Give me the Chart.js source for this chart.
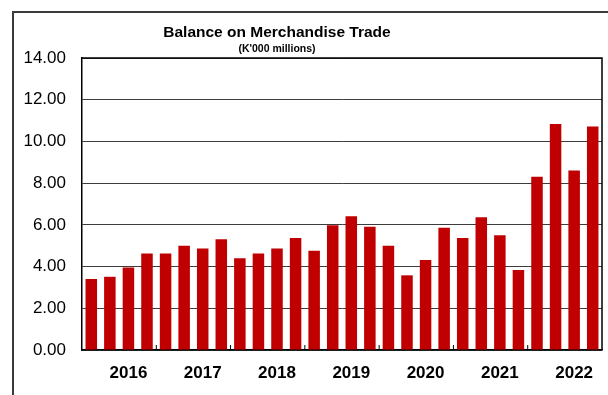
<!DOCTYPE html>
<html>
<head>
<meta charset="utf-8">
<script src="https://cdn.jsdelivr.net/npm/chart.js@4"></script>
<style>
  html, body { margin: 0; padding: 0; background: #fff; }
  #wrap { position: relative; width: 608px; height: 395px; }
</style>
</head>
<body>
<div id="wrap"><canvas id="trade" width="608" height="395"></canvas></div>
<script>
// Quarterly balance on merchandise trade, K'000 millions
const years = ["2016", "2017", "2018", "2019", "2020", "2021", "2022"];
const quarters = ["Q1", "Q2", "Q3", "Q4"];
const balance = [
  3.40, 3.51, 3.95, 4.63,
  4.63, 5.00, 4.87, 5.31,
  4.40, 4.63, 4.87, 5.37,
  4.76, 5.98, 6.41, 5.91,
  5.00, 3.58, 4.31, 5.86,
  5.37, 6.36, 5.50, 3.84,
  8.31, 10.83, 8.61, 10.71
];
const yTicks = [0, 2, 4, 6, 8, 10, 12, 14];

// one slot per quarter; the year label sits on the third quarter
const labels = [];
years.forEach(y => quarters.forEach((q, i) => labels.push(i === 2 ? y : "")));

const FONT = "'Liberation Sans', Arial, sans-serif";

// outer frame, plot box, year separators and the heading
const decor = {
  id: "decor",
  beforeDraw(chart) {
    const ctx = chart.ctx;
    ctx.save();
    ctx.strokeStyle = "#3a3a3a";
    ctx.lineWidth = 2;
    ctx.beginPath();
    ctx.moveTo(13, 395);
    ctx.lineTo(13, 12);
    ctx.lineTo(608, 12);
    ctx.stroke();
    ctx.restore();
  },
  afterDraw(chart) {
    const { ctx, chartArea: a, scales } = chart;
    ctx.save();
    ctx.strokeStyle = "#000";
    ctx.lineWidth = 1.5;
    ctx.beginPath();
    ctx.moveTo(a.left, a.top);
    ctx.lineTo(a.right, a.top);
    ctx.lineTo(a.right, a.bottom);
    ctx.stroke();

    // short marks between years, pointing up into the plot
    const x = scales.x;
    ctx.lineWidth = 1;
    for (let i = quarters.length; i < labels.length; i += quarters.length) {
      const px = (x.getPixelForValue(i - 1) + x.getPixelForValue(i)) / 2;
      ctx.beginPath();
      ctx.moveTo(px, a.bottom);
      ctx.lineTo(px, a.bottom - 5);
      ctx.stroke();
    }

    ctx.fillStyle = "#000";
    ctx.textAlign = "center";
    ctx.textBaseline = "alphabetic";
    ctx.font = "bold 15.5px " + FONT;
    ctx.fillText("Balance on Merchandise Trade", 277, 37);
    ctx.font = "bold 10.5px " + FONT;
    ctx.fillText("(K'000 millions)", 277, 52);
    ctx.restore();
  }
};

new Chart(document.getElementById("trade"), {
  type: "bar",
  data: {
    labels: labels,
    datasets: [{
      label: "Balance",
      data: balance,
      backgroundColor: "#c00000",
      borderWidth: 0,
      barPercentage: 0.62,
      categoryPercentage: 1.0
    }]
  },
  options: {
    responsive: false,
    animation: false,
    layout: { padding: { left: 0, right: 6, top: 58, bottom: 0 } },
    plugins: {
      legend: { display: false },
      tooltip: { enabled: false }
    },
    scales: {
      x: {
        afterFit(s) { s.height = 45; },
        grid: { display: false },
        border: { color: "#000", width: 1.5 },
        ticks: {
          autoSkip: false,
          maxRotation: 0,
          padding: 5,
          color: "#000",
          font: { family: FONT, size: 17, weight: "bold" }
        }
      },
      y: {
        min: 0,
        max: 14,
        afterFit(s) { s.width = 82; },
        afterBuildTicks(s) { s.ticks = yTicks.map(v => ({ value: v })); },
        grid: { color: "#3c3c3c", lineWidth: 1, drawTicks: false },
        border: { color: "#000", width: 1.5 },
        ticks: {
          padding: 16,
          color: "#000",
          font: { family: FONT, size: 17 },
          callback: v => v.toFixed(2)
        }
      }
    }
  },
  plugins: [decor]
});
</script>
</body>
</html>
